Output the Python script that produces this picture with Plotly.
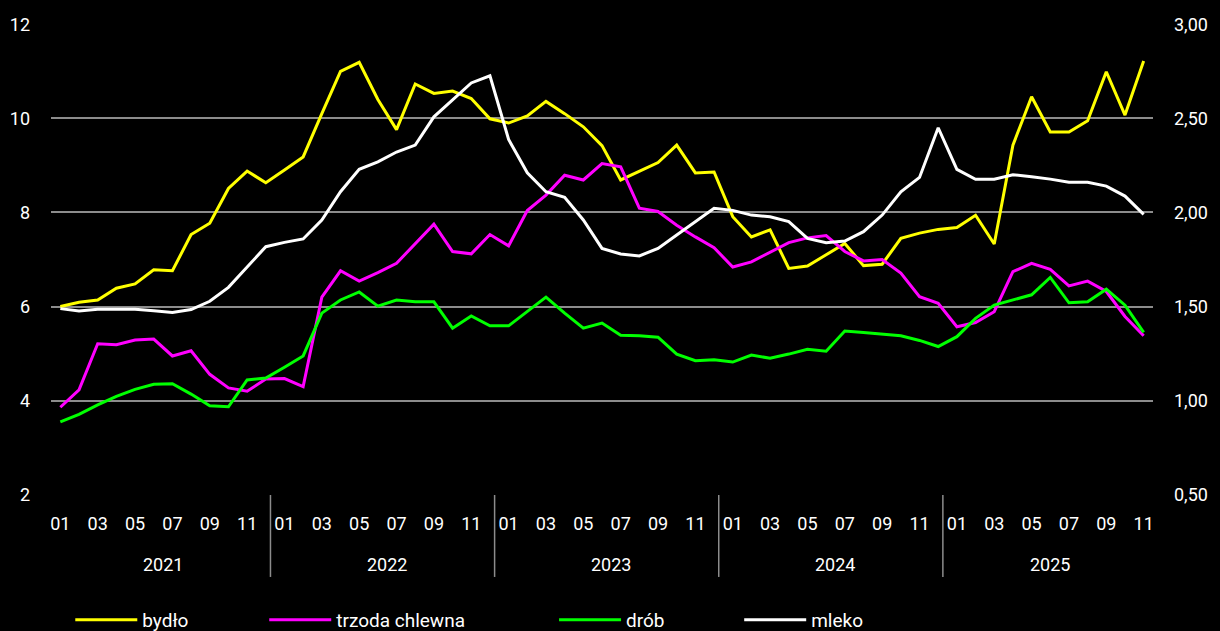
import plotly.graph_objects as go

years = ["2021"] * 12 + ["2022"] * 12 + ["2023"] * 12 + ["2024"] * 12 + ["2025"] * 11
months = ["01", "02", "03", "04", "05", "06", "07", "08", "09", "10", "11", "12"] * 4 + \
         ["01", "02", "03", "04", "05", "06", "07", "08", "09", "10", "11"]

bydlo = [6.00, 6.09, 6.14, 6.39, 6.48, 6.78, 6.76, 7.53, 7.77, 8.51, 8.88, 8.63,
         8.90, 9.18, 10.10, 11.00, 11.19, 10.40, 9.76, 10.73, 10.53, 10.58, 10.42, 9.99,
         9.90, 10.05, 10.36, 10.10, 9.82, 9.42, 8.69, 8.88, 9.06, 9.43, 8.84, 8.86,
         7.91, 7.48, 7.63, 6.81, 6.86, 7.10, 7.34, 6.87, 6.90, 7.45, 7.56, 7.64,
         7.68, 7.94, 7.33, 9.43, 10.46, 9.71, 9.71, 9.95, 10.99, 10.07, 11.22]

trzoda = [3.86, 4.23, 5.21, 5.19, 5.29, 5.31, 4.95, 5.06, 4.56, 4.27, 4.20, 4.46,
          4.47, 4.30, 6.20, 6.76, 6.54, 6.72, 6.92, 7.34, 7.75, 7.17, 7.12, 7.53,
          7.29, 8.04, 8.37, 8.79, 8.69, 9.04, 8.97, 8.09, 8.02, 7.73, 7.48, 7.25,
          6.84, 6.95, 7.15, 7.36, 7.46, 7.51, 7.17, 6.97, 7.00, 6.71, 6.21, 6.07,
          5.57, 5.66, 5.89, 6.74, 6.92, 6.79, 6.44, 6.54, 6.32, 5.79, 5.38]

drob = [3.55, 3.71, 3.91, 4.09, 4.24, 4.35, 4.36, 4.14, 3.89, 3.87, 4.44, 4.48,
        4.71, 4.95, 5.86, 6.14, 6.31, 6.01, 6.14, 6.10, 6.10, 5.54, 5.80, 5.59,
        5.59, 5.89, 6.20, 5.86, 5.54, 5.65, 5.39, 5.38, 5.35, 4.99, 4.85, 4.87,
        4.82, 4.97, 4.90, 4.99, 5.09, 5.05, 5.48, 5.45, 5.42, 5.38, 5.28, 5.15,
        5.36, 5.75, 6.03, 6.14, 6.25, 6.62, 6.08, 6.10, 6.37, 6.03, 5.45]

mleko = [1.489, 1.477, 1.486, 1.486, 1.486, 1.478, 1.468, 1.484, 1.528, 1.602, 1.712, 1.818,
         1.841, 1.859, 1.960, 2.110, 2.229, 2.269, 2.321, 2.358, 2.508, 2.600, 2.688, 2.726,
         2.388, 2.211, 2.110, 2.080, 1.960, 1.809, 1.779, 1.769, 1.809, 1.880, 1.951, 2.022,
         2.011, 1.986, 1.977, 1.951, 1.862, 1.839, 1.848, 1.898, 1.986, 2.110, 2.186, 2.450,
         2.229, 2.176, 2.176, 2.200, 2.190, 2.177, 2.160, 2.160, 2.140, 2.087, 1.990]

left_ticks = [2, 4, 6, 8, 10, 12]
right_ticks = [0.5, 1.0, 1.5, 2.0, 2.5, 3.0]

n = len(months)
cats = [f"{y}-{m}" for y, m in zip(years, months)]
tick_idx = [i for i, m in enumerate(months) if int(m) % 2 == 1]
tickvals = [cats[i] for i in tick_idx]
ticktext = [months[i] for i in tick_idx]

FONT = "Roboto, Noto Sans, sans-serif"
GRID = "#8c8c8c"
fig = go.Figure()
series = [("bydło", bydlo, "#FFFF00", "y", "legend", 0.0175),
          ("trzoda chlewna", trzoda, "#FF00FF", "y", "legend2", 0.1935),
          ("drób", drob, "#00FF00", "y", "legend3", 0.4565),
          ("mleko", mleko, "#FFFFFF", "y2", "legend4", 0.6245)]
legends = {}
for name, vals, col, ax, lg, lx in series:
    fig.add_trace(go.Scatter(x=cats, y=vals, name=name, mode="lines",
                             line=dict(color=col, width=3), yaxis=ax, legend=lg))
    legends[lg] = dict(orientation="h", x=lx, xanchor="left", y=-0.265, yanchor="middle",
                       font=dict(size=19, color="white"), bgcolor="rgba(0,0,0,0)",
                       itemwidth=62)

# year group labels and dividers below the axis
uniq_years = list(dict.fromkeys(years))
for yv in uniq_years:
    idx = [i for i, y in enumerate(years) if y == yv]
    center = (idx[0] + idx[-1]) / 2
    fig.add_annotation(x=center, xref="x", y=-0.1486, yref="paper", text=yv,
                       showarrow=False, yanchor="middle", font=dict(size=18, color="white"))
starts = [i for i in range(1, n) if years[i] != years[i - 1]]
for s in starts:
    fx = (s - 0.25) / n
    fig.add_shape(type="line", xref="paper", yref="paper", x0=fx, x1=fx, y0=0, y1=-0.174,
                  line=dict(color=GRID, width=1.5))

fig.update_layout(
    width=1220, height=631,
    paper_bgcolor="black", plot_bgcolor="black",
    margin=dict(l=51, r=67, t=24, b=136, autoexpand=False),
    font=dict(family=FONT, size=18, color="white"),
    separators=", ",
    showlegend=True,
    xaxis=dict(type="category", range=[-0.5, n - 0.5], showgrid=False,
               tickmode="array", tickvals=tickvals, ticktext=ticktext,
               tickangle=0, automargin=False, ticks="", ticklabelstandoff=16,
               tickfont=dict(size=18), showline=False, zeroline=False),
    yaxis=dict(range=[1.995, 12.005], tickvals=left_ticks, showgrid=True, gridcolor=GRID,
               gridwidth=1.5, zeroline=False, ticklabelstandoff=20, automargin=False,
               tickfont=dict(size=18)),
    yaxis2=dict(range=[0.49875, 3.00125], tickvals=right_ticks, tickformat=".2f",
                overlaying="y", side="right", showgrid=False, zeroline=False,
                ticklabelstandoff=20, automargin=False, tickfont=dict(size=18)),
    **legends,
)

fig.write_html("out.html", config={"displayModeBar": False},
               post_script="document.body.style.margin='0';document.body.style.overflow='hidden';")
